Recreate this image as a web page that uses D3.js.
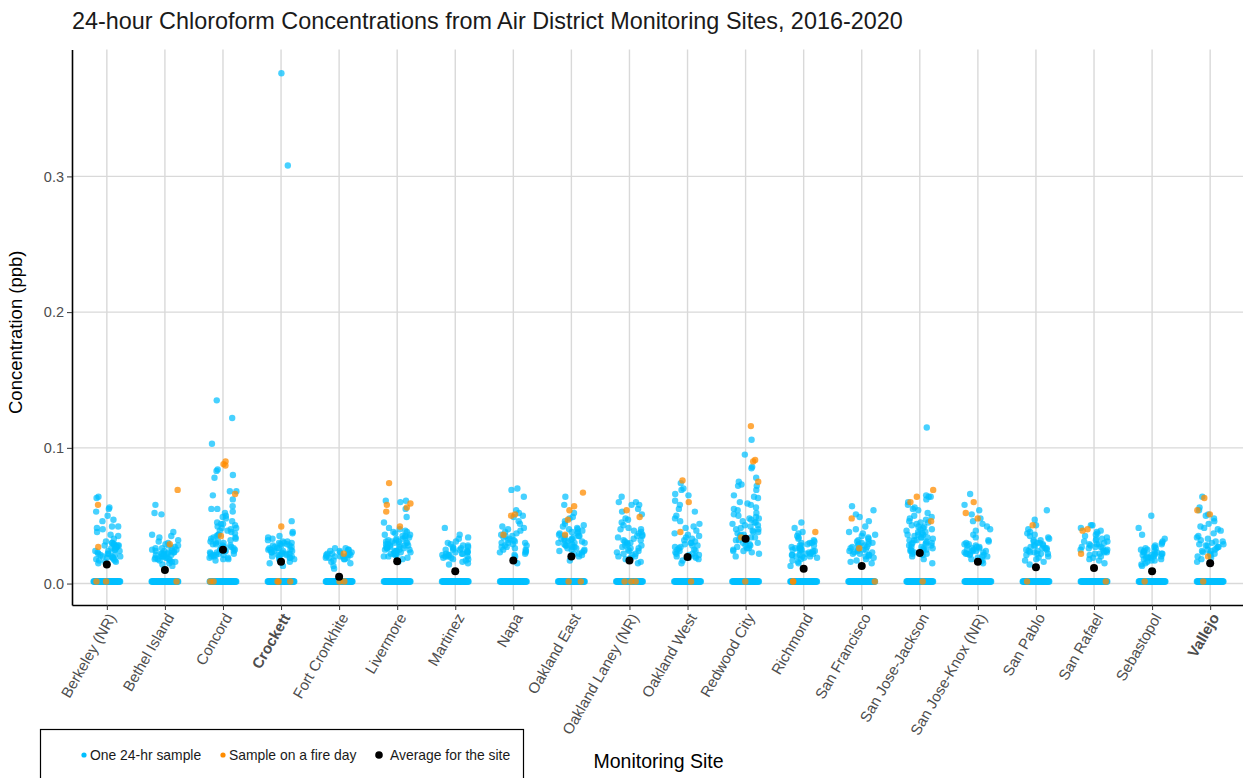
<!DOCTYPE html>
<html>
<head>
<meta charset="utf-8">
<script src="https://cdn.jsdelivr.net/npm/d3@7"></script>
<style>
  html, body { margin: 0; padding: 0; background: #fff; }
  svg { display: block; font-family: "Liberation Sans", Arial, Helvetica, sans-serif; }
</style>
</head>
<body>
<svg id="chart" width="1243" height="778"></svg>
<script>
// Monitoring sites (x categories); bold labels mark the two highlighted sites
const sites = [
  "Berkeley (NR)", "Bethel Island", "Concord", "Crockett", "Fort Cronkhite",
  "Livermore", "Martinez", "Napa", "Oakland East", "Oakland Laney (NR)",
  "Oakland West", "Redwood City", "Richmond", "San Francisco", "San Jose-Jackson",
  "San Jose-Knox (NR)", "San Pablo", "San Rafael", "Sebastopol", "Vallejo"
];
const boldSites = ["Crockett", "Vallejo"];

// Detected 24-hr samples (ppb), one list per site
const sampleValues = [
  [0.064,0.063,0.056,0.055,0.053,0.050,0.047,0.046,0.042,0.042,0.041,0.040,0.038,0.036,0.035,0.033,0.031,0.030,0.030,0.029,0.029,0.028,0.028,0.027,0.027,0.026,0.025,0.025,0.024,0.024,0.023,0.022,0.022,0.021,0.021,0.020,0.020,0.019,0.019,0.018,0.018,0.017,0.017,0.016,0.016,0.015,0.028,0.026,0.024,0.022,0.020,0.019],
  [0.058,0.052,0.051,0.038,0.036,0.035,0.034,0.032,0.031,0.030,0.029,0.028,0.028,0.027,0.026,0.026,0.025,0.025,0.024,0.024,0.023,0.023,0.022,0.022,0.022,0.021,0.021,0.020,0.020,0.019,0.019,0.018,0.018,0.017,0.017,0.016,0.016,0.015,0.014,0.013,0.026,0.024,0.023,0.022,0.021,0.020,0.019,0.018],
  [0.135,0.122,0.103,0.084,0.083,0.080,0.078,0.068,0.068,0.065,0.062,0.057,0.055,0.055,0.053,0.052,0.050,0.049,0.048,0.046,0.045,0.044,0.043,0.042,0.041,0.040,0.039,0.038,0.037,0.036,0.035,0.034,0.033,0.032,0.031,0.030,0.030,0.029,0.028,0.028,0.027,0.027,0.026,0.026,0.025,0.025,0.024,0.024,0.023,0.023,0.022,0.022,0.021,0.021,0.020,0.019,0.018,0.017,0.044,0.041,0.039,0.036,0.034,0.033,0.031,0.029,0.027,0.025,0.024,0.022,0.021,0.020,0.019,0.018],
  [0.376,0.308,0.046,0.038,0.037,0.035,0.034,0.033,0.032,0.031,0.031,0.030,0.030,0.029,0.029,0.028,0.028,0.027,0.027,0.026,0.026,0.025,0.025,0.024,0.024,0.023,0.023,0.022,0.022,0.021,0.021,0.020,0.020,0.019,0.019,0.018,0.018,0.017,0.016,0.015,0.013,0.030,0.028,0.026,0.025,0.024,0.023,0.022,0.021,0.020],
  [0.026,0.026,0.025,0.025,0.024,0.024,0.023,0.023,0.022,0.022,0.021,0.021,0.020,0.020,0.020,0.019,0.019,0.018,0.018,0.017,0.016,0.015,0.013,0.011,0.022,0.021,0.020,0.019],
  [0.061,0.061,0.060,0.055,0.049,0.045,0.041,0.040,0.039,0.038,0.037,0.036,0.035,0.034,0.034,0.033,0.032,0.032,0.031,0.031,0.030,0.030,0.029,0.029,0.028,0.028,0.027,0.027,0.026,0.026,0.025,0.025,0.024,0.024,0.023,0.023,0.022,0.022,0.021,0.020,0.019,0.018,0.016,0.038,0.036,0.035,0.033,0.031,0.030,0.029,0.028,0.027,0.026,0.025,0.024,0.023,0.022,0.021,0.020],
  [0.041,0.036,0.034,0.033,0.031,0.030,0.029,0.028,0.028,0.027,0.026,0.026,0.025,0.025,0.024,0.024,0.023,0.023,0.022,0.022,0.021,0.021,0.020,0.020,0.019,0.019,0.018,0.018,0.017,0.016,0.015,0.014,0.027,0.025,0.023,0.022,0.021,0.020],
  [0.070,0.069,0.064,0.054,0.052,0.050,0.049,0.046,0.044,0.042,0.041,0.040,0.039,0.038,0.037,0.036,0.035,0.034,0.033,0.032,0.031,0.030,0.030,0.029,0.028,0.027,0.026,0.025,0.024,0.023,0.022,0.021,0.020,0.015,0.035,0.032,0.030,0.028,0.027,0.025,0.023],
  [0.064,0.058,0.052,0.049,0.048,0.046,0.044,0.043,0.042,0.041,0.040,0.039,0.038,0.038,0.037,0.036,0.035,0.035,0.034,0.033,0.033,0.032,0.031,0.031,0.030,0.030,0.029,0.028,0.028,0.027,0.026,0.026,0.025,0.024,0.023,0.022,0.021,0.020,0.017,0.040,0.037,0.035,0.033,0.032,0.030,0.029,0.027,0.025,0.024,0.022],
  [0.064,0.060,0.060,0.058,0.058,0.055,0.053,0.051,0.048,0.047,0.045,0.043,0.041,0.040,0.040,0.039,0.038,0.037,0.036,0.035,0.034,0.033,0.032,0.031,0.030,0.029,0.028,0.027,0.026,0.025,0.024,0.023,0.022,0.021,0.020,0.019,0.018,0.016,0.015,0.035,0.032,0.030,0.028,0.026,0.024,0.022,0.020],
  [0.074,0.070,0.069,0.066,0.065,0.061,0.058,0.055,0.053,0.050,0.048,0.046,0.044,0.042,0.041,0.039,0.037,0.036,0.035,0.034,0.033,0.032,0.031,0.030,0.029,0.028,0.027,0.026,0.025,0.024,0.023,0.022,0.021,0.020,0.019,0.018,0.017,0.015,0.030,0.028,0.027,0.025,0.024,0.022,0.021,0.020,0.019],
  [0.106,0.095,0.086,0.085,0.078,0.075,0.073,0.072,0.072,0.069,0.065,0.064,0.063,0.060,0.059,0.058,0.056,0.055,0.054,0.052,0.051,0.050,0.049,0.048,0.047,0.046,0.045,0.044,0.043,0.042,0.041,0.040,0.039,0.038,0.037,0.036,0.035,0.034,0.033,0.032,0.031,0.030,0.029,0.028,0.027,0.026,0.025,0.024,0.023,0.022,0.020,0.048,0.045,0.043,0.040,0.038,0.036,0.034,0.032,0.030,0.028,0.026,0.024],
  [0.045,0.041,0.038,0.037,0.035,0.034,0.033,0.032,0.031,0.030,0.030,0.029,0.028,0.028,0.027,0.026,0.026,0.025,0.025,0.024,0.024,0.023,0.023,0.022,0.022,0.021,0.021,0.020,0.020,0.019,0.018,0.017,0.016,0.015,0.013,0.030,0.028,0.026,0.025,0.024,0.022,0.021,0.020,0.019],
  [0.057,0.054,0.051,0.049,0.046,0.042,0.040,0.038,0.037,0.036,0.035,0.034,0.033,0.032,0.031,0.030,0.030,0.029,0.028,0.028,0.027,0.026,0.025,0.025,0.024,0.023,0.023,0.022,0.021,0.020,0.019,0.018,0.017,0.016,0.015,0.031,0.029,0.027,0.025,0.024,0.022,0.021,0.020],
  [0.115,0.065,0.064,0.064,0.062,0.060,0.058,0.056,0.055,0.054,0.052,0.050,0.049,0.048,0.047,0.046,0.045,0.044,0.043,0.042,0.041,0.040,0.039,0.038,0.037,0.036,0.036,0.035,0.034,0.034,0.033,0.032,0.032,0.031,0.030,0.030,0.029,0.028,0.028,0.027,0.026,0.026,0.025,0.025,0.024,0.023,0.022,0.021,0.020,0.018,0.015,0.045,0.042,0.040,0.038,0.036,0.034,0.032,0.030,0.029,0.027,0.025,0.024,0.022],
  [0.066,0.058,0.054,0.051,0.048,0.046,0.044,0.042,0.040,0.039,0.036,0.034,0.032,0.031,0.030,0.029,0.028,0.028,0.027,0.026,0.026,0.025,0.024,0.024,0.023,0.022,0.022,0.021,0.020,0.020,0.019,0.018,0.017,0.016,0.015,0.029,0.027,0.025,0.024,0.023,0.022,0.021],
  [0.054,0.047,0.043,0.040,0.038,0.037,0.036,0.035,0.034,0.033,0.032,0.031,0.030,0.029,0.028,0.028,0.027,0.026,0.026,0.025,0.024,0.024,0.023,0.022,0.022,0.021,0.020,0.019,0.018,0.017,0.016,0.014,0.032,0.030,0.028,0.026,0.025,0.023,0.022],
  [0.043,0.043,0.041,0.039,0.038,0.037,0.036,0.035,0.034,0.033,0.032,0.031,0.030,0.029,0.029,0.028,0.027,0.027,0.026,0.025,0.025,0.024,0.023,0.023,0.022,0.021,0.020,0.019,0.018,0.017,0.015,0.033,0.031,0.029,0.027,0.026,0.024,0.022],
  [0.050,0.041,0.036,0.033,0.031,0.030,0.029,0.028,0.027,0.026,0.026,0.025,0.024,0.024,0.023,0.023,0.022,0.022,0.021,0.021,0.020,0.020,0.019,0.019,0.018,0.018,0.017,0.017,0.016,0.015,0.014,0.013,0.025,0.023,0.022,0.021,0.020,0.019],
  [0.064,0.056,0.054,0.051,0.050,0.048,0.046,0.044,0.042,0.041,0.040,0.039,0.037,0.035,0.034,0.033,0.032,0.031,0.030,0.029,0.028,0.028,0.027,0.026,0.025,0.024,0.023,0.022,0.021,0.020,0.019,0.018,0.016,0.031,0.029,0.027,0.025,0.024,0.022]
];

// Detected samples collected on fire days (ppb)
const fireValues = [
  [0.058,0.027],
  [0.069,0.029],
  [0.090,0.088,0.087,0.066,0.035],
  [0.042],
  [0.022],
  [0.074,0.059,0.058,0.056,0.053,0.042],
  [],
  [0.051,0.050,0.036],
  [0.067,0.057,0.054,0.047,0.036],
  [0.054,0.049],
  [0.076,0.060,0.038],
  [0.116,0.091,0.090,0.075,0.034],
  [0.038],
  [0.048,0.026],
  [0.069,0.064,0.060,0.046],
  [0.060,0.052,0.048],
  [0.043],
  [0.040,0.039,0.022],
  [],
  [0.063,0.054,0.051,0.020]
];

// Non-detect samples per site (plotted at the reporting floor), and how many fell on fire days
const nonDetectLevel = 0.0015;
const ndCounts = [60,60,60,60,70,60,60,60,60,60,60,60,60,60,60,60,60,60,60,60];
const fireNdCounts = [2,1,2,3,2,0,0,0,2,3,1,1,2,1,1,0,1,1,1,1];

// Average concentration for each site (ppb)
const siteMeans = [0.014,0.010,0.025,0.016,0.005,0.0165,0.009,0.017,0.020,0.017,0.0195,0.033,0.011,0.013,0.0225,0.016,0.012,0.0115,0.009,0.015];

const yTicks = [0, 0.1, 0.2, 0.3];

const colors = { sample: "#00bfff", fire: "#ff8c00", mean: "#000000" };

const svg = d3.select("#chart");
const panel = { left: 72, right: 1245, top: 49.5, bottom: 605 };

const x = d3.scalePoint().domain(sites).range([panel.left, panel.right]).padding(0.6);
const y = d3.scaleLinear().domain([-0.0158, 0.3935]).range([panel.bottom, panel.top]);

// Title
svg.append("text")
  .attr("x", 72).attr("y", 29)
  .attr("font-size", 23.4).attr("fill", "#1a1a1a")
  .text("24-hour Chloroform Concentrations from Air District Monitoring Sites, 2016-2020");

// Grid
const grid = svg.append("g");
grid.selectAll("line.h").data(yTicks).join("line")
  .attr("x1", panel.left).attr("x2", panel.right)
  .attr("y1", d => y(d)).attr("y2", d => y(d))
  .attr("stroke", "#d9d9d9").attr("stroke-width", 1.4);
grid.selectAll("line.v").data(sites).join("line")
  .attr("x1", d => x(d)).attr("x2", d => x(d))
  .attr("y1", panel.top).attr("y2", panel.bottom)
  .attr("stroke", "#d9d9d9").attr("stroke-width", 1.4);

// Deterministic horizontal jitter within each site's column (hash of index and site)
const jitterHalf = 13.5;
function jitter(i, s) {
  const h = Math.sin(i * 12.9898 + s * 78.233 + 1.7) * 43758.5453;
  const u = h - Math.floor(h);
  return (1 - u * 2) * jitterHalf;
}
// evenly spread positions for the non-detect row
function spread(n, count) {
  return ((n + 0.5) / count * 2 - 1) * jitterHalf;
}

const pts = [];
sites.forEach((site, s) => {
  sampleValues[s].forEach((v, k) => pts.push({ site, v, dx: jitter(k, s) }));
  for (let n = 0; n < ndCounts[s]; n++) pts.push({ site, v: nonDetectLevel, dx: spread(n, ndCounts[s]) });
});
const firePts = [];
sites.forEach((site, s) => {
  for (let n = 0; n < fireNdCounts[s]; n++) firePts.push({ site, v: nonDetectLevel, dx: jitter(300 + n, s) });
  fireValues[s].forEach((v, k) => firePts.push({ site, v, dx: jitter(200 + k, s) }));
});

const marks = svg.append("g");
marks.selectAll("circle.sample").data(pts).join("circle")
  .attr("class", "sample")
  .attr("cx", d => x(d.site) + d.dx).attr("cy", d => y(d.v)).attr("r", 3.2)
  .attr("fill", colors.sample).attr("fill-opacity", 0.72);
marks.selectAll("circle.fire").data(firePts).join("circle")
  .attr("class", "fire")
  .attr("cx", d => x(d.site) + d.dx).attr("cy", d => y(d.v)).attr("r", 3.2)
  .attr("fill", colors.fire).attr("fill-opacity", 0.75);
marks.selectAll("circle.mean").data(sites).join("circle")
  .attr("class", "mean")
  .attr("cx", d => x(d)).attr("cy", (d, i) => y(siteMeans[i])).attr("r", 4)
  .attr("fill", colors.mean);

// Axes
const yAxis = svg.append("g")
  .attr("transform", `translate(${panel.left},0)`)
  .call(d3.axisLeft(y).tickValues(yTicks).tickFormat(d3.format(".1f")).tickSize(5).tickSizeOuter(0).tickPadding(3));
yAxis.select(".domain").attr("stroke", "#000").attr("stroke-width", 1.6);
yAxis.selectAll(".tick line").attr("stroke", "#333");
yAxis.selectAll(".tick text").attr("font-size", 14.5).attr("fill", "#4d4d4d").attr("font-family", null);

const xAxis = svg.append("g")
  .attr("transform", `translate(0,${panel.bottom})`)
  .call(d3.axisBottom(x).tickSize(5).tickSizeOuter(0).tickPadding(0));
xAxis.select(".domain").attr("stroke", "#000").attr("stroke-width", 1.6);
xAxis.selectAll(".tick line").attr("stroke", "#333");
xAxis.selectAll(".tick text")
  .attr("font-size", 15).attr("fill", "#4d4d4d").attr("font-family", null)
  .attr("text-anchor", "end")
  .attr("y", 0).attr("dy", "0.71em")
  .attr("transform", "translate(0,7) rotate(-60)")
  .attr("font-weight", d => boldSites.includes(d) ? "bold" : null);

// Axis titles
svg.append("text")
  .attr("transform", `translate(22,${(panel.top + panel.bottom) / 2 + 5}) rotate(-90)`)
  .attr("text-anchor", "middle").attr("font-size", 18.5).attr("fill", "#000")
  .text("Concentration (ppb)");
svg.append("text")
  .attr("x", (panel.left + panel.right) / 2).attr("y", 768)
  .attr("text-anchor", "middle").attr("font-size", 19.5).attr("fill", "#000")
  .text("Monitoring Site");

// Legend
const legendItems = [
  { label: "One 24-hr sample", color: colors.sample, r: 2.6, x: 84, gap: 6 },
  { label: "Sample on a fire day", color: colors.fire, r: 2.6, x: 223, gap: 6 },
  { label: "Average for the site", color: colors.mean, r: 3.8, x: 379, gap: 11 }
];
const legend = svg.append("g");
legend.append("rect")
  .attr("x", 40.5).attr("y", 729.5).attr("width", 483).attr("height", 70)
  .attr("fill", "#fff").attr("stroke", "#000").attr("stroke-width", 1.2);
const li = legend.selectAll("g.item").data(legendItems).join("g")
  .attr("transform", d => `translate(${d.x},755)`);
li.append("circle").attr("r", d => d.r).attr("fill", d => d.color);
li.append("text").attr("x", d => d.gap).attr("dy", "0.36em")
  .attr("font-size", 13.9).attr("fill", "#1a1a1a").text(d => d.label);
</script>
</body>
</html>
